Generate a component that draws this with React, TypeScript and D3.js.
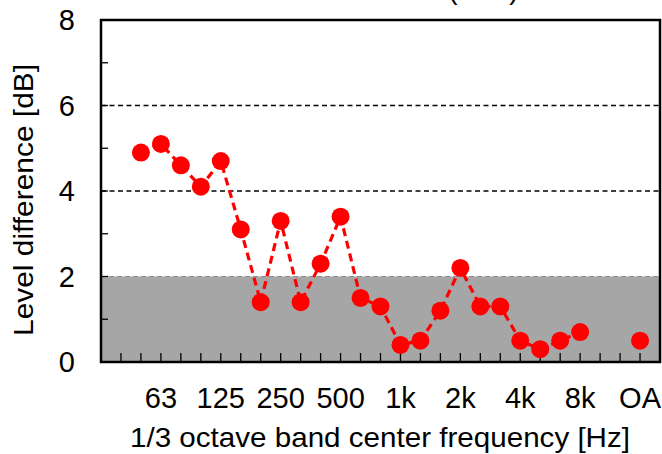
import React from "react";
import * as d3 from "d3";

// 1/3 octave bands on the x axis (first slot is 40 Hz, last slot is the overall value)
const bands = [
  "40", "50", "63", "80", "100", "125", "160", "200", "250", "315", "400", "500",
  "630", "800", "1k", "1.25k", "1.6k", "2k", "2.5k", "3.15k", "4k", "5k", "6.3k",
  "8k", "10k", "12.5k", "OA",
];
// Measured bands, 50 Hz .. 8 kHz
const measuredBands = [
  "50", "63", "80", "100", "125", "160", "200", "250", "315", "400", "500", "630",
  "800", "1k", "1.25k", "1.6k", "2k", "2.5k", "3.15k", "4k", "5k", "6.3k", "8k",
];
const levelDifference = [
  4.9, 5.1, 4.6, 4.1, 4.7, 3.1, 1.4, 3.3, 1.4, 2.3, 3.4, 1.5,
  1.3, 0.4, 0.5, 1.2, 2.2, 1.3, 1.3, 0.5, 0.3, 0.5, 0.7,
];
const overallBand = "OA";
const overallValue = 0.5;

const tickLabels = ["63", "125", "250", "500", "1k", "2k", "4k", "8k", "OA"];
const yTicks = [0, 2, 4, 6, 8];
const yMinorTicks = [1, 2, 3, 4, 5, 6, 7];
const gridValues = [4, 6];
const shadedLimit = 2;

const W = 662;
const H = 454;
const left = 101;
const right = 660;
const top = 20;
const bottom = 362;
const font = "'Liberation Sans', Arial, sans-serif";

export default function App() {
  const x = d3.scalePoint<string>().domain(bands).range([left, right]).padding(1);
  const y = d3.scaleLinear().domain([0, 8]).range([bottom, top]);

  const line = d3
    .line<number>()
    .x((_, i) => x(measuredBands[i]) as number)
    .y((d) => y(d));

  return (
    <svg
      width={W}
      height={H}
      style={{ position: "absolute", left: 0, top: 0, background: "#fff" }}
    >
      {/* shaded band below the limit */}
      <rect
        x={left}
        y={y(shadedLimit)}
        width={right - left}
        height={y(0) - y(shadedLimit)}
        fill="#a6a6a6"
      />
      <line
        x1={left}
        x2={right}
        y1={y(shadedLimit)}
        y2={y(shadedLimit)}
        stroke="#8c8c8c"
        strokeWidth={1}
        strokeDasharray="5,3"
      />
      {gridValues.map((g) => (
        <line
          key={g}
          x1={left}
          x2={right}
          y1={y(g)}
          y2={y(g)}
          stroke="#000"
          strokeWidth={1.3}
          strokeDasharray="5,3.5"
        />
      ))}

      {/* y ticks, pointing inward */}
      {yMinorTicks.map((t) => (
        <line key={t} x1={left} x2={left + 7} y1={y(t)} y2={y(t)} stroke="#000" strokeWidth={1.3} />
      ))}
      {/* x ticks, pointing inward */}
      {bands.map((b) => (
        <line
          key={b}
          x1={x(b)}
          x2={x(b)}
          y1={bottom}
          y2={bottom - 9}
          stroke="#000"
          strokeWidth={1.3}
        />
      ))}

      {/* frame */}
      <rect
        x={left}
        y={top}
        width={right - left}
        height={bottom - top}
        fill="none"
        stroke="#000"
        strokeWidth={2.5}
      />

      {/* data series */}
      <path
        d={line(levelDifference) ?? ""}
        fill="none"
        stroke="#ff0000"
        strokeWidth={3.2}
        strokeDasharray="8,5"
      />
      {levelDifference.map((v, i) => (
        <circle key={i} cx={x(measuredBands[i])} cy={y(v)} r={9} fill="#ff0000" />
      ))}
      <circle cx={x(overallBand)} cy={y(overallValue)} r={9} fill="#ff0000" />

      {/* y tick labels */}
      {yTicks.map((t) => (
        <text
          key={t}
          x={75}
          y={y(t)}
          dy="0.36em"
          textAnchor="end"
          fontFamily={font}
          fontSize={29}
          fill="#000"
        >
          {t}
        </text>
      ))}

      {/* x tick labels */}
      {tickLabels.map((l) => (
        <text
          key={l}
          x={x(l)}
          y={408}
          textAnchor="middle"
          fontFamily={font}
          fontSize={29}
          fill="#000"
        >
          {l}
        </text>
      ))}

      {/* axis titles */}
      <text
        x={380}
        y={447}
        textAnchor="middle"
        fontFamily={font}
        fontSize={28.5}
        textLength={500}
        lengthAdjust="spacingAndGlyphs"
        fill="#000"
      >
        1/3 octave band center frequency [Hz]
      </text>
      <text
        transform="translate(33,200) rotate(-90)"
        textAnchor="middle"
        fontFamily={font}
        fontSize={28.5}
        textLength={272}
        lengthAdjust="spacingAndGlyphs"
        fill="#000"
      >
        Level difference [dB]
      </text>

      {/* chart title, clipped at the top edge */}
      <text x={453} y={-1} textAnchor="middle" fontFamily={font} fontSize={28} fill="#000">
        (
      </text>
      <text x={514} y={-1} textAnchor="middle" fontFamily={font} fontSize={28} fill="#000">
        )
      </text>
    </svg>
  );
}
